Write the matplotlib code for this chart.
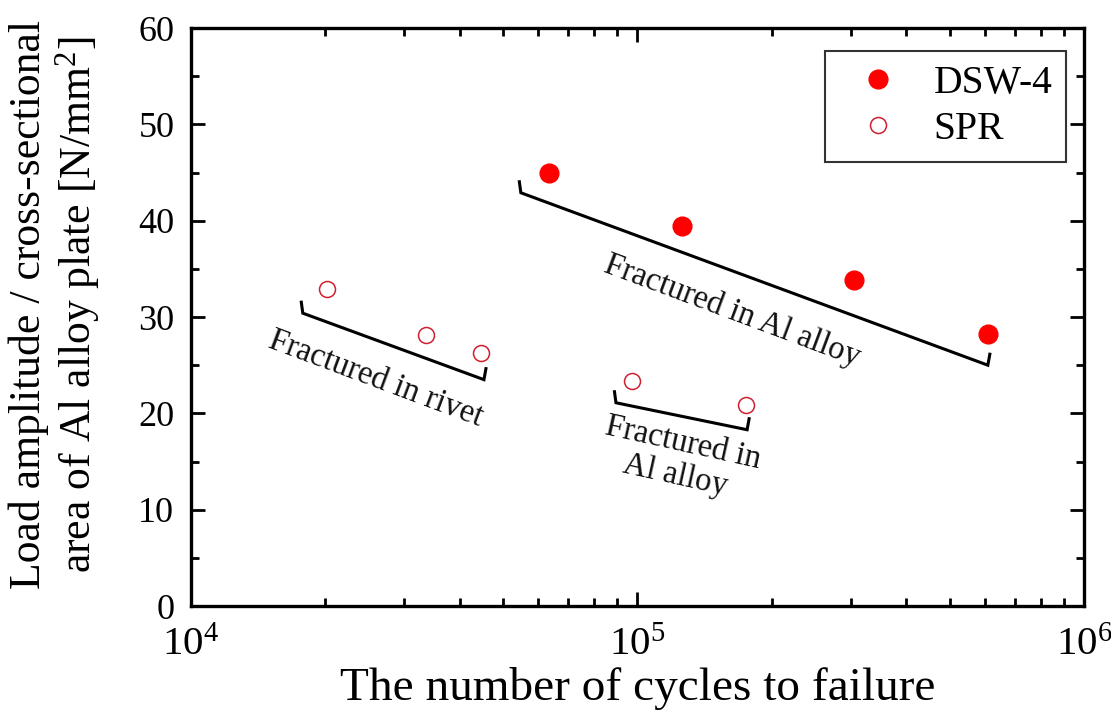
import numpy as np
import matplotlib
matplotlib.use("Agg")
import matplotlib.pyplot as plt
from matplotlib.ticker import LogLocator, FixedLocator, NullFormatter

plt.rcParams["font.family"] = ["Liberation Serif", "DejaVu Serif"]
plt.rcParams["mathtext.fontset"] = "custom"
plt.rcParams["mathtext.rm"] = "Liberation Serif"
plt.rcParams["mathtext.it"] = "Liberation Serif:italic"

# Fatigue test results
dsw_cycles = [63400, 125800, 305000, 609000]
dsw_stress = [45.0, 39.4, 33.8, 28.2]
spr_cycles = [20200, 33600, 44600, 97200, 175000]
spr_stress = [32.9, 28.1, 26.3, 23.4, 20.9]

series_labels = ["DSW-4", "SPR"]
y_ticks = [0, 10, 20, 30, 40, 50, 60]

# Bracket annotations: (left corner, right corner) in data units
brackets = [
    ((54800, 42.9), (609000, 25.0)),
    ((17800, 30.4), (45300, 23.5)),
    ((89500, 21.1), (176000, 18.3)),
]
bracket_texts = ["Fractured in Al alloy", "Fractured in rivet", "Fractured in\nAl alloy"]
bracket_text_pos = [(163000, 30.6), (26000, 23.6), (124000, 15.2)]
bracket_text_rot = [-20.5, -20.5, -12.5]

fig = plt.figure(figsize=(11.11, 7.15), dpi=100)
ax = fig.add_axes([0.1719, 0.1524, 0.8038, 0.8084])
ax.set_xscale("log")
ax.set_xlim(1e4, 1e6)
ax.set_ylim(0, 60)

red = "#ff0000"
ring = "#d0202e"
ax.plot(dsw_cycles, dsw_stress, "o", ms=13.5, color=red, mec=red, label=series_labels[0], zorder=5)
ax.plot(spr_cycles, spr_stress, "o", ms=11.5, mfc="white", mec=ring, mew=1.1, label=series_labels[1], zorder=5)

# Brackets with short vertical hooks at each end
hook_px = 11
for (p0, p1) in brackets:
    d0 = ax.transData.transform(p0)
    d1 = ax.transData.transform(p1)
    h0 = ax.transData.inverted().transform(d0 + np.array([-1.5, hook_px]))
    h1 = ax.transData.inverted().transform(d1 + np.array([2.0, hook_px]))
    xs = [h0[0], p0[0], p1[0], h1[0]]
    ys = [h0[1], p0[1], p1[1], h1[1]]
    ax.plot(xs, ys, "-", color="black", lw=2.2, solid_joinstyle="miter", zorder=4)

for txt, pos, rot in zip(bracket_texts, bracket_text_pos, bracket_text_rot):
    ax.text(pos[0], pos[1], txt, rotation=rot, rotation_mode="anchor",
            ha="center", va="center", fontsize=23.5, linespacing=1.1, color="#111111")

ax.yaxis.set_major_locator(FixedLocator(y_ticks))
ax.yaxis.set_minor_locator(FixedLocator([5, 15, 25, 35, 45, 55]))
ax.xaxis.set_major_locator(LogLocator(base=10, numticks=10))
ax.xaxis.set_minor_locator(LogLocator(base=10, subs=np.arange(2, 10), numticks=20))
ax.xaxis.set_minor_formatter(NullFormatter())

for side in ["left", "right", "top", "bottom"]:
    ax.spines[side].set_linewidth(2.4)

ax.tick_params(which="both", direction="in", top=True, right=True, colors="black")
ax.tick_params(which="major", length=10, width=2.0)
ax.tick_params(which="minor", length=6, width=2.0)
ax.tick_params(axis="y", which="major", labelsize=26, pad=12)
ax.tick_params(axis="x", which="major", labelsize=29.5, pad=15)

ax.set_xlabel("The number of cycles to failure", fontsize=34, labelpad=2)
ax.set_ylabel("Load amplitude / cross-sectional\narea of Al alloy plate [N/mm$^{2}$]",
              fontsize=31.5, linespacing=1.12)
ax.yaxis.set_label_coords(-0.100, 0.521)

leg = ax.legend(loc="upper right", bbox_to_anchor=(0.980, 0.960), borderaxespad=0,
                fontsize=28.5, frameon=True, fancybox=False, edgecolor="black",
                handletextpad=0.4, borderpad=0.35, labelspacing=0.22, handlelength=2.0)
leg.get_frame().set_linewidth(1.5)

fig.savefig("out.png", dpi=100)
